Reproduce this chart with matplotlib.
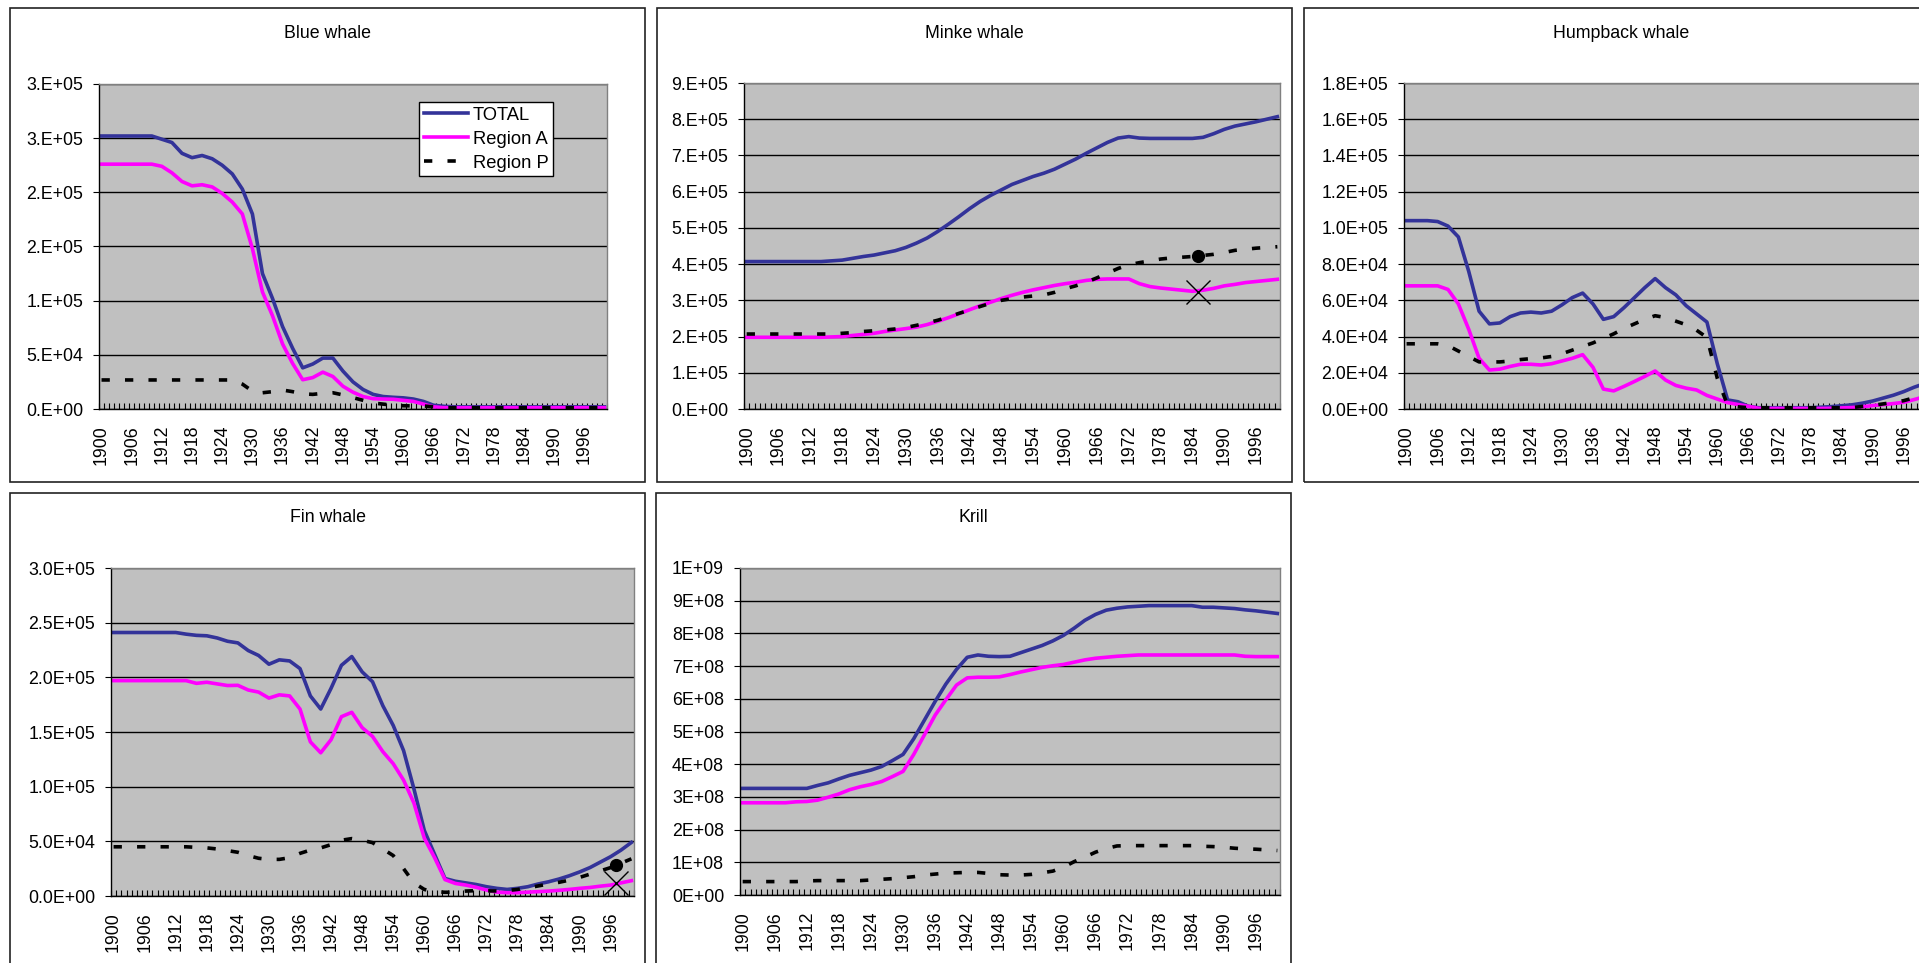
import matplotlib
matplotlib.use("Agg")
import matplotlib.pyplot as plt
from matplotlib.patches import Rectangle
import numpy as np

plt.rcParams['font.family'] = ['Liberation Sans', 'DejaVu Sans']

W, H = 1919, 963

# model years (every second year), category labels every 6 years
years = list(range(1900, 2001, 2))
year_labels = [str(y) for y in range(1900, 2001, 6)]

# Blue whale, thousands
blue_total = [252, 252, 252, 252, 252, 252, 249, 246, 236, 232,
              234, 231, 225, 217, 203, 180, 125, 102, 76, 56,
              38, 41.5, 47, 47, 35, 25, 18, 13.5, 11.5, 10.8,
              10.3, 9.2, 7, 3.5, 2.5, 2, 2, 2, 2, 2,
              2, 2, 2, 2, 2, 2, 2, 2, 2, 2, 2]
blue_a = [226, 226, 226, 226, 226, 226, 224, 218, 210, 206,
          207, 205, 199, 191, 180, 148, 108, 86, 60, 42,
          27, 29, 34, 30, 21, 15.5, 11.5, 9.5, 9.2, 9,
          8, 7, 4.5, 2, 1.2, 1.2, 1.2, 1.2, 1.2, 1.2,
          1.2, 1.2, 1.2, 1.2, 1.2, 1.2, 1.2, 1.2, 1.2, 1.2, 1.2]
blue_p = [26.8, 26.8, 26.8, 26.8, 26.8, 26.8, 26.8, 26.8, 26.8, 26.8,
          26.8, 26.8, 26.8, 26.8, 23, 16.5, 15, 16, 17.5, 16,
          14, 13.5, 14.5, 15, 13, 10.5, 8, 5.5, 4.5, 3.5,
          3, 2.8, 2.8, 2, 1.2, 1.2, 1.2, 1.2, 1.2, 1.2,
          1.2, 1.2, 1.2, 1.2, 1.2, 1.2, 1.2, 1.2, 1.2, 1.2, 1.2]
blue_ticks = [0, 50000, 100000, 150000, 200000, 250000, 300000]
blue_ticklabels = ['0.E+00', '5.E+04', '1.E+05', '2.E+05', '2.E+05', '3.E+05', '3.E+05']

# Minke whale, thousands
minke_total = [407, 407, 407, 407, 407, 407, 407, 407, 409, 411,
               416, 421, 425, 431, 437, 446, 458, 472, 490, 510,
               531, 553, 573, 590, 605, 620, 631, 642, 651, 662,
               676, 690, 706, 721, 736, 748, 752, 748, 747, 747,
               747, 747, 747, 750, 760, 772, 781, 787, 793, 800, 807]
minke_a = [198, 198, 198, 198, 198, 198, 198, 198, 199, 200,
           203, 206, 209, 214, 218, 222, 226, 233, 242, 252,
           263, 274, 285, 295, 305, 314, 322, 329, 335, 341,
           346, 350, 355, 358, 359, 359, 359, 346, 338, 334,
           331, 328, 325, 328, 333, 340, 344, 349, 352, 355, 358]
minke_p = [207, 207, 207, 207, 207, 207, 207, 207, 207, 209,
           211, 214, 216, 218, 221, 225, 231, 238, 245, 254,
           264, 273, 283, 292, 300, 305, 309, 312, 315, 322,
           332, 340, 350, 362, 375, 388, 398, 404, 409, 414,
           417, 419, 421, 424, 427, 432, 438, 441, 444, 446, 448]
minke_ticks = [i * 100000 for i in range(10)]
minke_ticklabels = ['0.E+00', '1.E+05', '2.E+05', '3.E+05', '4.E+05',
                    '5.E+05', '6.E+05', '7.E+05', '8.E+05', '9.E+05']
minke_survey = (1985, 422, 324)   # year, Region P estimate, Region A estimate

# Humpback whale, thousands
hump_total = [104, 104, 104, 103.5, 101, 95, 76, 54, 47, 47.5,
              51, 53, 53.5, 53, 54, 57.5, 61.5, 64, 58, 49.5,
              51, 56, 61.5, 67, 72, 67, 63, 57, 52.5, 48,
              25, 5, 4, 1.5, 0.7, 0.7, 0.7, 0.7, 0.7, 0.7,
              1, 1.3, 1.8, 2.3, 3.2, 4.4, 6, 7.6, 9.6, 12, 14]
hump_a = [68, 68, 68, 68, 66, 58, 44, 28, 21.5, 22,
          23.5, 24.7, 24.7, 24.3, 25, 26.5, 28, 30, 23, 11,
          10, 12.5, 15.2, 18, 21, 16, 13, 11.5, 10.5, 7.5,
          5.5, 3.5, 2.5, 1.5, 0.4, 0.3, 0.3, 0.3, 0.3, 0.3,
          0.3, 0.4, 0.6, 0.8, 1.2, 1.9, 2.4, 3, 3.7, 5.2, 6.8]
hump_p = [36, 36, 36, 36, 35, 32, 29, 26, 26, 26,
          26.5, 27.3, 27.8, 28.2, 29, 30.5, 32.5, 34.5, 36.5, 39,
          41.5, 44.5, 47, 49.5, 51.5, 50.5, 48.5, 46.5, 43.5, 39.5,
          17, 2, 1.2, 0.7, 0.7, 0.7, 0.7, 0.7, 0.7, 0.7,
          0.7, 0.7, 0.7, 0.8, 1.4, 2, 2.8, 3.6, 4.6, 6.2, 7.5]
hump_ticks = [i * 20000 for i in range(10)]
hump_ticklabels = ['0.0E+00', '2.0E+04', '4.0E+04', '6.0E+04', '8.0E+04',
                   '1.0E+05', '1.2E+05', '1.4E+05', '1.6E+05', '1.8E+05']

# Fin whale, thousands
fin_total = [241, 241, 241, 241, 241, 241, 241, 239.5, 238.4, 238,
             236, 233, 231.5, 224.5, 220, 212, 216, 215, 208, 183,
             171, 190, 211, 219, 205, 196, 174, 156, 133, 98,
             60, 38, 16, 13.5, 12, 10.5, 8.5, 7, 6, 7,
             8.5, 11, 13, 15.5, 18.5, 22, 26, 31, 36, 42, 49]
fin_a = [197, 197, 197, 197, 197, 197, 197, 197, 194.5, 195.5,
         194, 192.5, 192.7, 188.4, 186.5, 181, 184, 183, 171, 141,
         131, 143, 164, 168, 154, 146, 132, 121, 106, 85,
         53, 35, 15, 11.5, 10, 8, 5.5, 3.5, 3, 3,
         3.5, 4, 4.5, 5.2, 6, 7, 7.8, 9, 10, 12, 14]
fin_p = [45, 45, 45, 45, 45, 45, 45, 45, 44.5, 44,
         43, 41.5, 40, 37, 34.5, 33.5, 33.5, 35, 39, 42,
         44, 47, 51, 52.5, 51, 48.8, 43, 37, 25, 12,
         6, 4, 3.4, 3.5, 4.5, 4.9, 4.7, 4.6, 5, 6,
         7.5, 9.2, 11, 12.5, 14.5, 17, 20, 23, 26, 30, 34]
fin_ticks = [0, 50000, 100000, 150000, 200000, 250000, 300000]
fin_ticklabels = ['0.0E+00', '5.0E+04', '1.0E+05', '1.5E+05', '2.0E+05', '2.5E+05', '3.0E+05']
fin_survey = (1997, 28.4, 11.6)

# Krill, millions
krill_total = [326, 326, 326, 326, 326, 326, 326, 335, 343, 355,
               366, 374, 382, 393, 411, 430, 478, 535, 592, 645,
               690, 727, 734, 730, 729, 730, 741, 752, 763, 777,
               794, 816, 840, 858, 871, 877, 881, 883, 885, 885,
               885, 885, 885, 880, 880, 878, 876, 872, 869, 865, 861]
krill_a = [282, 282, 282, 282, 282, 285, 286, 290, 299, 309,
           322, 331, 338, 347, 362, 378, 430, 490, 550, 597,
           642, 664, 666, 666, 667, 674, 682, 689, 696, 701,
           705, 712, 719, 724, 727, 730, 732, 734, 734, 734,
           734, 734, 734, 734, 734, 734, 734, 730, 729, 729, 729]
krill_p = [41, 41, 41, 41, 41, 41, 43, 44, 44, 44,
           44, 44, 46, 48, 50, 53, 56, 61, 64, 67,
           68, 69, 69, 66, 62, 61, 61, 63, 68, 73,
           85, 102, 116, 131, 142, 150, 151, 151, 151, 151,
           151, 151, 151, 149, 148, 146, 143, 141, 140, 138, 136]
krill_ticks = [i * 100000000 for i in range(11)]
krill_ticklabels = ['0E+00', '1E+08', '2E+08', '3E+08', '4E+08', '5E+08',
                    '6E+08', '7E+08', '8E+08', '9E+08', '1E+09']

NAVY = '#333399'
MAGENTA = '#FF00FF'
PLOT_BG = '#C0C0C0'
BORDER = '#808080'
LW = 2.6
TICK_FS = 12.8

fig = plt.figure(figsize=(W / 100, H / 100), dpi=100)


def px_axes(left, top, right, bottom):
    return fig.add_axes([left / W, 1 - bottom / H, (right - left) / W, (bottom - top) / H])


def chart_frame(left, top, right, bottom, title):
    fig.add_artist(Rectangle((left / W, 1 - bottom / H), (right - left) / W, (bottom - top) / H,
                             transform=fig.transFigure, fill=False, edgecolor='#222222', lw=1.2))
    fig.text((left + right) / 2 / W, 1 - (top + 25) / H, title,
             ha='center', va='center', fontsize=12.8)


def panel(ax, total, reg_a, reg_p, unit, ticks, ticklabels):
    x = np.array(years) - 1900
    ax.set_facecolor(PLOT_BG)
    ax.plot(x, np.array(total) * unit, color=NAVY, lw=LW, label='TOTAL')
    ax.plot(x, np.array(reg_a) * unit, color=MAGENTA, lw=LW, label='Region A')
    ax.plot(x, np.array(reg_p) * unit, color='black', lw=LW, dashes=(2.3, 4.2),
            dash_capstyle='butt', label='Region P')
    ax.set_xlim(-0.5, 100.5)
    ax.set_ylim(ticks[0], ticks[-1])
    ax.set_yticks(ticks)
    ax.set_yticklabels(ticklabels)
    ax.yaxis.grid(True, color='black', lw=1)
    ax.set_axisbelow(True)
    ax.set_xticks(np.arange(0, 101, 6))
    ax.set_xticklabels(year_labels, rotation=90)
    ax.set_xticks(np.arange(-0.5, 101, 1), minor=True)
    ax.tick_params(axis='x', which='major', length=0, pad=11.5, labelsize=TICK_FS)
    ax.tick_params(axis='x', which='minor', direction='in', length=4, width=0.8, color='black')
    ax.tick_params(axis='y', direction='out', length=4, width=0.8, pad=7.5, labelsize=TICK_FS)
    for side in ['left', 'bottom']:
        ax.spines[side].set_color('black')
        ax.spines[side].set_linewidth(1)
    for side in ['top', 'right']:
        ax.spines[side].set_color(BORDER)
        ax.spines[side].set_linewidth(1)


def survey_marks(ax, survey, unit):
    yr, p_est, a_est = survey
    ax.plot(yr - 1900, p_est * unit, 'o', color='black', ms=8.5, zorder=5)
    ax.plot(yr - 1900, a_est * unit, 'x', color='black', ms=17, mew=1, zorder=5)


# top row
chart_frame(10, 8, 645, 482, 'Blue whale')
ax1 = px_axes(99, 84, 607, 409)
panel(ax1, blue_total, blue_a, blue_p, 1e3, blue_ticks, blue_ticklabels)
leg = ax1.legend(loc='upper left', bbox_to_anchor=((419 - 99) / 508, 1 - (102 - 84) / 325),
                 borderaxespad=0, fontsize=13.2, handlelength=2.4, handletextpad=0.3,
                 borderpad=0.25, labelspacing=0.38, fancybox=False, framealpha=1,
                 edgecolor='black')
leg.get_frame().set_linewidth(1)

chart_frame(657, 8, 1292, 482, 'Minke whale')
ax2 = px_axes(744, 83, 1280, 409)
panel(ax2, minke_total, minke_a, minke_p, 1e3, minke_ticks, minke_ticklabels)
survey_marks(ax2, minke_survey, 1e3)

chart_frame(1304, 8, 1939, 482, 'Humpback whale')
ax3 = px_axes(1404, 83, 1927, 409)
panel(ax3, hump_total, hump_a, hump_p, 1e3, hump_ticks, hump_ticklabels)

# bottom row
chart_frame(10, 493, 645, 990, 'Fin whale')
ax4 = px_axes(111, 568, 634, 896)
panel(ax4, fin_total, fin_a, fin_p, 1e3, fin_ticks, fin_ticklabels)
survey_marks(ax4, fin_survey, 1e3)

chart_frame(656, 493, 1291, 990, 'Krill')
ax5 = px_axes(740, 568, 1280, 895)
panel(ax5, krill_total, krill_a, krill_p, 1e6, krill_ticks, krill_ticklabels)

fig.savefig('out.png', dpi=100)
